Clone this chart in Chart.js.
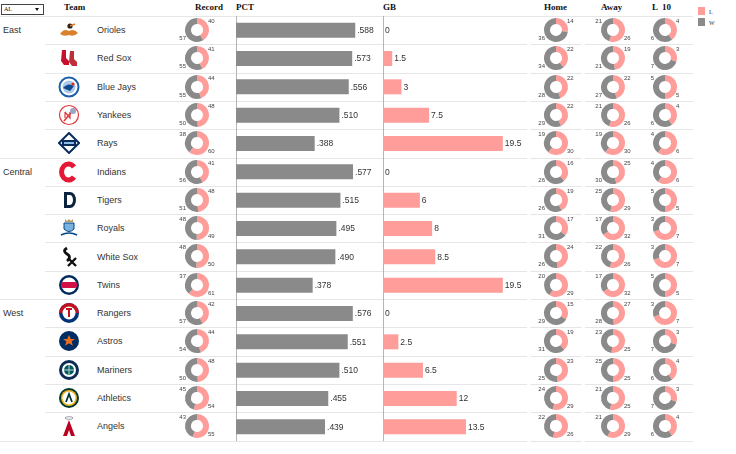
<!DOCTYPE html>
<html lang="en">
<head>
<meta charset="utf-8">
<title>AL standings</title>
<script src="https://cdn.jsdelivr.net/npm/chart.js@4.4.1/dist/chart.umd.min.js"></script>
<style>
  body { margin: 0; background: #fff; font-family: Arial, "Liberation Sans", sans-serif; color: #333; }
  #board { position: relative; width: 736px; height: 454px; overflow: hidden; }
  .hdr { position: absolute; top: 2px; font: bold 9px "Times New Roman", "Liberation Serif", serif; color: #111; line-height: 11px; white-space: pre; }
  .lbl { position: absolute; font-size: 9px; line-height: 12px; color: #333; white-space: nowrap; }
  .line { position: absolute; height: 1px; background: #e6e6e6; }
  canvas { position: absolute; }
  svg { position: absolute; }
  #picker { position: absolute; left: 1px; top: 4px; width: 39px; height: 9px; border: 1px solid #444; font: 6px "Times New Roman", "Liberation Serif", serif; line-height: 9px; padding-left: 2px; color: #111; }
  #picker::after { content: ""; position: absolute; right: 4px; top: 3px; border-left: 2px solid transparent; border-right: 2px solid transparent; border-top: 3px solid #111; }
  .key { position: absolute; left: 698px; width: 7px; height: 8px; }
  .keytxt { position: absolute; left: 709px; font: 6px "Times New Roman", "Liberation Serif", serif; color: #333; line-height: 8px; }
</style>
</head>
<body>
<div id="board">
  <div id="picker">AL</div>
  <div class="hdr" style="left:64px">Team</div>
  <div class="hdr" style="left:195px">Record</div>
  <div class="hdr" style="left:236px">PCT</div>
  <div class="hdr" style="left:383px">GB</div>
  <div class="hdr" style="left:544px">Home</div>
  <div class="hdr" style="left:601px">Away</div>
  <div class="hdr" style="left:652px">L  10</div>
  <div class="key" style="top:7px;background:#ff9d9a"></div>
  <div class="keytxt" style="top:8px">L</div>
  <div class="key" style="top:18px;background:#8a8a8a"></div>
  <div class="keytxt" style="top:19px">W</div>
  <div class="line" style="left:0;top:16px;width:693px"></div>
</div>
<script>
  const teams = ['Orioles', 'Red Sox', 'Blue Jays', 'Yankees', 'Rays',
    'Indians', 'Tigers', 'Royals', 'White Sox', 'Twins',
    'Rangers', 'Astros', 'Mariners', 'Athletics', 'Angels'];
  const divisions = ['East', 'East', 'East', 'East', 'East',
    'Central', 'Central', 'Central', 'Central', 'Central',
    'West', 'West', 'West', 'West', 'West'];
  const wins = [57, 55, 55, 50, 38, 56, 51, 48, 48, 37, 57, 54, 50, 45, 43];
  const losses = [40, 41, 44, 48, 60, 41, 48, 49, 50, 61, 42, 44, 48, 54, 55];
  const pct = [0.588, 0.573, 0.556, 0.510, 0.388, 0.577, 0.515, 0.495, 0.490, 0.378, 0.576, 0.551, 0.510, 0.455, 0.439];
  const gamesBack = [0, 1.5, 3, 7.5, 19.5, 0, 6, 8, 8.5, 19.5, 0, 2.5, 6.5, 12, 13.5];
  const homeW = [36, 34, 28, 29, 19, 26, 26, 31, 26, 20, 29, 31, 25, 24, 22];
  const homeL = [14, 22, 22, 22, 30, 16, 19, 17, 24, 29, 15, 19, 23, 29, 26];
  const awayW = [21, 21, 27, 21, 19, 30, 25, 17, 22, 17, 28, 23, 25, 21, 21];
  const awayL = [26, 19, 22, 26, 30, 25, 29, 32, 26, 32, 27, 25, 25, 25, 29];
  const last10W = [6, 7, 5, 6, 4, 4, 5, 3, 3, 5, 3, 7, 6, 7, 6];
  const last10L = [4, 3, 5, 4, 6, 6, 5, 7, 7, 5, 7, 3, 4, 3, 4];

  const PINK = '#ff9d9a';
  const GREY = '#8a8a8a';
  const TOP = 16;
  const ROW = 28.3;

  // rough stand-ins for the team logos
  const logos = {
    'Orioles': '<path d="M2 15q4-6 9-3q5-3 9 2q-4 4-9 2q-5 2-9-1z" fill="#d9822b"/><circle cx="12" cy="7" r="2.6" fill="#222"/><path d="M12 7l5-2" stroke="#e87722" stroke-width="1.5"/>',
    'Red Sox': '<path d="M4 3h4v8l3 3v4h-5l-3-4z" fill="#c8102e"/><path d="M12 4h4v8l3 3v4h-5l-3-4z" fill="#bd3039"/>',
    'Blue Jays': '<circle cx="11" cy="11" r="9.5" fill="#fff" stroke="#1d5fa8" stroke-width="2"/><circle cx="11" cy="11" r="6.5" fill="#a9c9ea"/><path d="M5 12q5-6 11-2l-4 5z" fill="#134a8e"/><circle cx="15" cy="8" r="1.6" fill="#e8291c"/>',
    'Yankees': '<circle cx="11" cy="11" r="9.5" fill="#fff" stroke="#e03a3e" stroke-width="1.2"/><path d="M6 17L16 5" stroke="#e03a3e" stroke-width="1.6"/><path d="M7 8v6M7 8l5 6v-6" stroke="#e03a3e" stroke-width="1.2" fill="none"/><circle cx="15" cy="7" r="3" fill="#9aa6c9"/>',
    'Rays': '<path d="M11 1L21 11L11 21L1 11z" fill="#fff" stroke="#092c5c" stroke-width="2"/><rect x="4" y="8" width="14" height="6" rx="1" fill="#092c5c"/><rect x="6" y="10" width="10" height="2" fill="#8fbce6"/>',
    'Indians': '<path d="M16 6A7 8 0 1 0 16 16" fill="none" stroke="#e31937" stroke-width="5"/>',
    'Tigers': '<path d="M6 3h6a6 8 0 0 1 0 16h-6z" fill="#0c2340"/><path d="M9 6h3a3 5 0 0 1 0 10h-3z" fill="#fff"/>',
    'Royals': '<path d="M7 2l2 2l2-2l2 2l2-2v3h-8z" fill="#bd9b60"/><path d="M6 6h10v6q-5 5-10 0z" fill="#7ab2dd" stroke="#004687"/><path d="M3 18q8-4 16 0" stroke="#004687" stroke-width="1.6" fill="none"/>',
    'White Sox': '<path d="M9 2q-5 3 0 6q5 3 0 7" stroke="#111" stroke-width="2.8" fill="none"/><path d="M10 12l8 8M18 12l-8 8" stroke="#111" stroke-width="2.4"/>',
    'Twins': '<circle cx="11" cy="11" r="10" fill="#002b5c"/><circle cx="11" cy="11" r="7.5" fill="#fff"/><rect x="3" y="8" width="16" height="6" rx="2" fill="#d31145"/>',
    'Rangers': '<circle cx="11" cy="11" r="10" fill="#003278"/><path d="M1 11a10 10 0 0 1 20 0z" fill="#c0111f"/><circle cx="11" cy="11" r="6.5" fill="#fff"/><path d="M8 7h6M11 7v8" stroke="#c0111f" stroke-width="2"/>',
    'Astros': '<circle cx="11" cy="11" r="10" fill="#002d62"/><path d="M11 5l1.8 4h4.2l-3.4 2.6l1.3 4.2l-3.9-2.5l-3.9 2.5l1.3-4.2l-3.4-2.6h4.2z" fill="#eb6e1f"/>',
    'Mariners': '<circle cx="11" cy="11" r="10" fill="#0c2c56"/><circle cx="11" cy="11" r="7" fill="#fff"/><circle cx="11" cy="11" r="5" fill="#005c5c"/><path d="M11 6v10M6 11h10" stroke="#c4ced4" stroke-width="1"/>',
    'Athletics': '<circle cx="11" cy="11" r="10" fill="#003831"/><circle cx="11" cy="11" r="8" fill="#efb21e"/><circle cx="11" cy="11" r="6.5" fill="#fff"/><path d="M8 15l3-8l3 8" stroke="#003831" stroke-width="1.8" fill="none"/>',
    'Angels': '<path d="M11 5L5 21h4l2-6l2 6h4z" fill="#ba0021"/><ellipse cx="11" cy="3" rx="4" ry="1.3" fill="none" stroke="#9ea3a8" stroke-width="1"/>'
  };

  const board = document.getElementById('board');

  const addDiv = (cls, style, text) => {
    const d = document.createElement('div');
    d.className = cls;
    d.style.cssText = style;
    if (text) d.textContent = text;
    board.appendChild(d);
    return d;
  };

  const addCanvas = (left, top, w, h) => {
    const c = document.createElement('canvas');
    c.width = w;
    c.height = h;
    c.style.left = left + 'px';
    c.style.top = top + 'px';
    c.style.width = w + 'px';
    c.style.height = h + 'px';
    board.appendChild(c);
    return c;
  };

  // row text, logos and separator lines
  teams.forEach((team, i) => {
    const y0 = TOP + i * ROW;
    const cy = y0 + ROW / 2;
    if (i === 0 || divisions[i] !== divisions[i - 1]) {
      addDiv('lbl', `left:3px;top:${cy - 6}px`, divisions[i]);
    }
    addDiv('lbl', `left:97px;top:${cy - 6}px`, team);
    const svg = document.createElementNS('http://www.w3.org/2000/svg', 'svg');
    svg.setAttribute('width', 22);
    svg.setAttribute('height', 22);
    svg.setAttribute('viewBox', '0 0 22 22');
    svg.style.left = '58px';
    svg.style.top = (cy - 11) + 'px';
    svg.innerHTML = logos[team];
    board.appendChild(svg);

    const yLine = Math.round(TOP + (i + 1) * ROW);
    const divEnd = i === teams.length - 1 || divisions[i] !== divisions[i + 1];
    const x0 = divEnd ? 0 : 45;
    addDiv('line', `left:${x0}px;top:${yLine}px;width:${527 - x0}px`);
    addDiv('line', `left:530px;top:${yLine}px;width:52px`);
    addDiv('line', `left:585px;top:${yLine}px;width:108px`);
  });

  const valueLabels = (fmt) => ({
    id: 'valueLabels',
    afterDatasetsDraw(chart) {
      const ctx = chart.ctx;
      const values = chart.data.datasets[0].data;
      ctx.save();
      ctx.font = '8.5px Arial, "Liberation Sans", sans-serif';
      ctx.fillStyle = '#333';
      ctx.textBaseline = 'middle';
      chart.getDatasetMeta(0).data.forEach((bar, i) => {
        ctx.fillText(fmt(values[i]), bar.x + 2, bar.y + 0.5);
      });
      ctx.restore();
    }
  });

  const makeBars = (left, values, color, max, fmt) => {
    const canvas = addCanvas(left - 1, TOP, 146, Math.round(ROW * teams.length));
    return new Chart(canvas, {
      type: 'bar',
      data: {
        labels: teams,
        datasets: [{
          data: values,
          backgroundColor: color,
          categoryPercentage: 1,
          barPercentage: 0.53,
        }]
      },
      options: {
        indexAxis: 'y',
        responsive: false,
        animation: false,
        events: [],
        layout: { padding: { left: 1 } },
        plugins: { legend: { display: false }, tooltip: { enabled: false } },
        scales: {
          x: { display: false, min: 0, max: max },
          y: {
            ticks: { display: false },
            grid: { display: false },
            border: { display: true, dash: [1, 2], color: '#b5b5b5' },
            afterFit: (scale) => { scale.width = 0; },
          },
        }
      },
      plugins: [valueLabels(fmt)]
    });
  };

  makeBars(236, pct, GREY, 0.715, v => v.toFixed(3).replace(/^0/, ''));
  makeBars(383, gamesBack, PINK, 23.6, v => String(v));

  // small outside labels for each slice of a record donut
  const sliceLabels = {
    id: 'sliceLabels',
    afterDatasetsDraw(chart) {
      const ctx = chart.ctx;
      const values = chart.data.datasets[0].data;
      ctx.save();
      ctx.font = '6px Arial, "Liberation Sans", sans-serif';
      ctx.fillStyle = '#444';
      ctx.textBaseline = 'middle';
      chart.getDatasetMeta(0).data.forEach((arc, i) => {
        const mid = (arc.startAngle + arc.endAngle) / 2 + 0.01;
        const right = Math.cos(mid) > 0;
        const top = Math.sin(mid) < 0;
        ctx.textAlign = right ? 'left' : 'right';
        const x = arc.x + (right ? arc.outerRadius - 1 : 1 - arc.outerRadius);
        const y = arc.y + (top ? -8.5 : 8.5);
        ctx.fillText(String(values[i]), x, y);
      });
      ctx.restore();
    }
  };

  const makeDonut = (cx, row, l, w) => {
    const canvas = addCanvas(Math.round(cx - 28), TOP + row * ROW, 56, 28);
    return new Chart(canvas, {
      type: 'doughnut',
      data: {
        labels: ['L', 'W'],
        datasets: [{ data: [l, w], backgroundColor: [PINK, GREY], borderWidth: 0 }]
      },
      options: {
        responsive: false,
        animation: false,
        events: [],
        cutout: '50%',
        layout: { padding: { top: 2, bottom: 2 } },
        plugins: { legend: { display: false }, tooltip: { enabled: false } },
      },
      plugins: [sliceLabels]
    });
  };

  teams.forEach((team, i) => {
    makeDonut(197, i, losses[i], wins[i]);
    makeDonut(556, i, homeL[i], homeW[i]);
    makeDonut(613, i, awayL[i], awayW[i]);
    makeDonut(665, i, last10L[i], last10W[i]);
  });
</script>
</body>
</html>
